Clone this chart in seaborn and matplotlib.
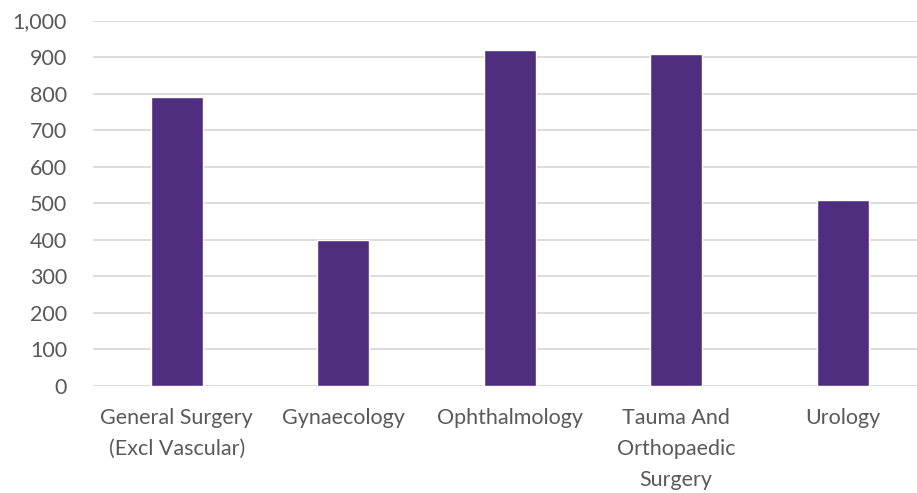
import matplotlib
matplotlib.use("Agg")
import matplotlib.pyplot as plt
import seaborn as sns
import pandas as pd

# Patients by specialty
specialties = [
    "General Surgery\n(Excl Vascular)",
    "Gynaecology",
    "Ophthalmology",
    "Tauma And\nOrthopaedic\nSurgery",
    "Urology",
]
counts = [790, 399, 919, 908, 509]
y_ticks = [0, 100, 200, 300, 400, 500, 600, 700, 800, 900, 1000]
y_tick_labels = ["0", "100", "200", "300", "400", "500", "600", "700", "800", "900", "1,000"]

df = pd.DataFrame({"specialty": specialties, "count": counts})

sns.set_style("white")
plt.rcParams["font.family"] = ["Lato", "DejaVu Sans"]

fig = plt.figure(figsize=(9.17, 4.93), dpi=100)
ax = fig.add_axes([0.1019, 0.2176, 0.8981, 0.7408])

sns.barplot(data=df, x="specialty", y="count", color="#4F2D7F",
            saturation=1, width=0.312, ax=ax, zorder=3)

ax.set_ylim(0, 1000)
ax.set_xlim(-0.5, 4.446)
ax.set_yticks(y_ticks)
ax.set_yticklabels(y_tick_labels)
ax.set_xlabel("")
ax.set_ylabel("")

ax.yaxis.grid(True, color="#D9D9D9", linewidth=1.3, zorder=0)
ax.set_axisbelow(True)
for s in ax.spines.values():
    s.set_visible(False)

ax.tick_params(axis="both", length=0, colors="#595959", labelsize=15.5)
ax.tick_params(axis="y", pad=19)
ax.tick_params(axis="x", pad=16)
for lbl in ax.get_xticklabels():
    lbl.set_linespacing(1.68)
    lbl.set_verticalalignment("top")

fig.savefig("out.png", dpi=100)
